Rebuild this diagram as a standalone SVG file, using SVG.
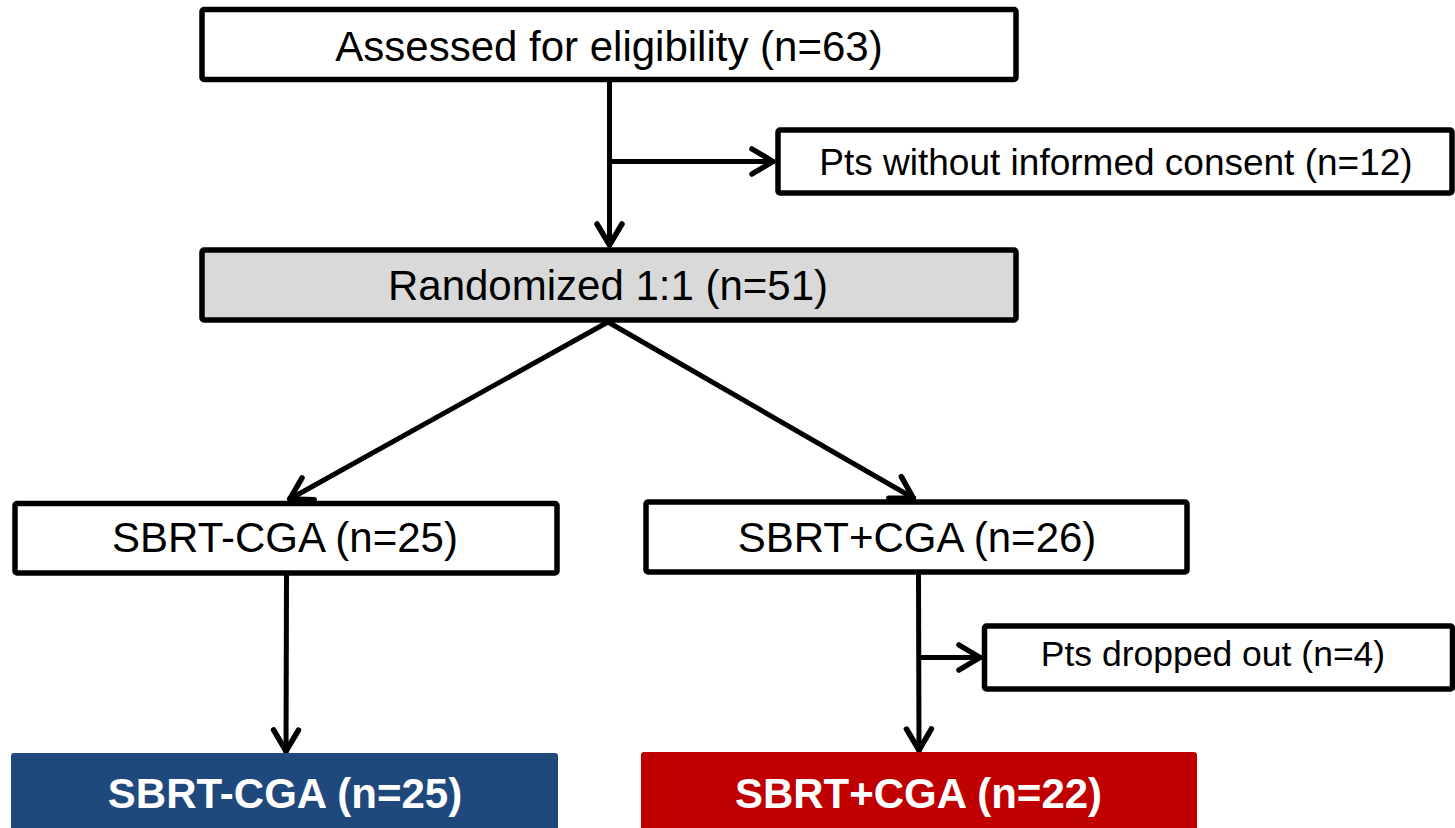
<svg xmlns="http://www.w3.org/2000/svg" width="1455" height="828" viewBox="0 0 1455 828">
  <style>
    .box { fill: #FFFFFF; stroke: #000000; stroke-width: 5.5; }
    .gray { fill: #D9D9D9; }
    .t { font-family: "Liberation Sans", Arial, sans-serif; fill: #000000; text-anchor: middle; }
    .tb { font-family: "Liberation Sans", Arial, sans-serif; fill: #FFFFFF; font-weight: bold; text-anchor: middle; font-size: 42px; }
    .conn { fill: none; stroke: #000000; stroke-width: 5; }
  </style>
  <defs>
    <marker id="arr" markerUnits="userSpaceOnUse" markerWidth="40" markerHeight="40" viewBox="-30 -20 40 40" refX="0" refY="0" orient="auto">
      <path d="M-23,-12.5 L-2,0 L-23,12.5" fill="none" stroke="#000000" stroke-width="5.5" stroke-linecap="round" stroke-linejoin="round"/>
    </marker>
  </defs>
  <rect width="1455" height="828" fill="#FFFFFF"/>

  <g id="connectors">
    <line class="conn" x1="609.5" y1="82" x2="609.5" y2="247" marker-end="url(#arr)"/>
    <line class="conn" x1="609.5" y1="161.5" x2="775" y2="161.5" marker-end="url(#arr)"/>
    <line class="conn" x1="608" y1="322" x2="288" y2="500" marker-end="url(#arr)"/>
    <line class="conn" x1="608" y1="322" x2="915" y2="499" marker-end="url(#arr)"/>
    <line class="conn" x1="286.5" y1="575" x2="286" y2="753" marker-end="url(#arr)"/>
    <line class="conn" x1="918.5" y1="574" x2="919" y2="752" marker-end="url(#arr)"/>
    <line class="conn" x1="918.5" y1="657.5" x2="982" y2="657.5" marker-end="url(#arr)"/>
  </g>

  <g id="node-assessed">
    <rect class="box" x="202" y="9.5" width="814" height="70" rx="2"/>
    <text class="t" x="609" y="61" font-size="42">Assessed for eligibility (n=63)</text>
  </g>

  <g id="node-noconsent">
    <rect class="box" x="778" y="130" width="674" height="63" rx="2"/>
    <text class="t" x="1116" y="175" font-size="37">Pts without informed consent (n=12)</text>
  </g>

  <g id="node-randomized">
    <rect class="box gray" x="202" y="250" width="814" height="70" rx="2"/>
    <text class="t" x="608" y="300" font-size="42">Randomized 1:1 (n=51)</text>
  </g>

  <g id="node-sbrt-minus">
    <rect class="box" x="15" y="503.5" width="542" height="69.5" rx="2"/>
    <text class="t" x="285" y="552" font-size="42">SBRT-CGA (n=25)</text>
  </g>

  <g id="node-sbrt-plus">
    <rect class="box" x="646" y="502" width="541" height="70" rx="2"/>
    <text class="t" x="917" y="552" font-size="42">SBRT+CGA (n=26)</text>
  </g>

  <g id="node-dropped">
    <rect class="box" x="984.5" y="626" width="468" height="63" rx="2"/>
    <text class="t" x="1213" y="666" font-size="35.5">Pts dropped out (n=4)</text>
  </g>

  <g id="node-final-minus">
    <rect x="11" y="753" width="547" height="80" rx="3" fill="#1F497D"/>
    <text class="tb" x="285" y="808">SBRT-CGA (n=25)</text>
  </g>

  <g id="node-final-plus">
    <rect x="641" y="752" width="556" height="81" rx="3" fill="#C00000"/>
    <text class="tb" x="918.5" y="808">SBRT+CGA (n=22)</text>
  </g>
</svg>
